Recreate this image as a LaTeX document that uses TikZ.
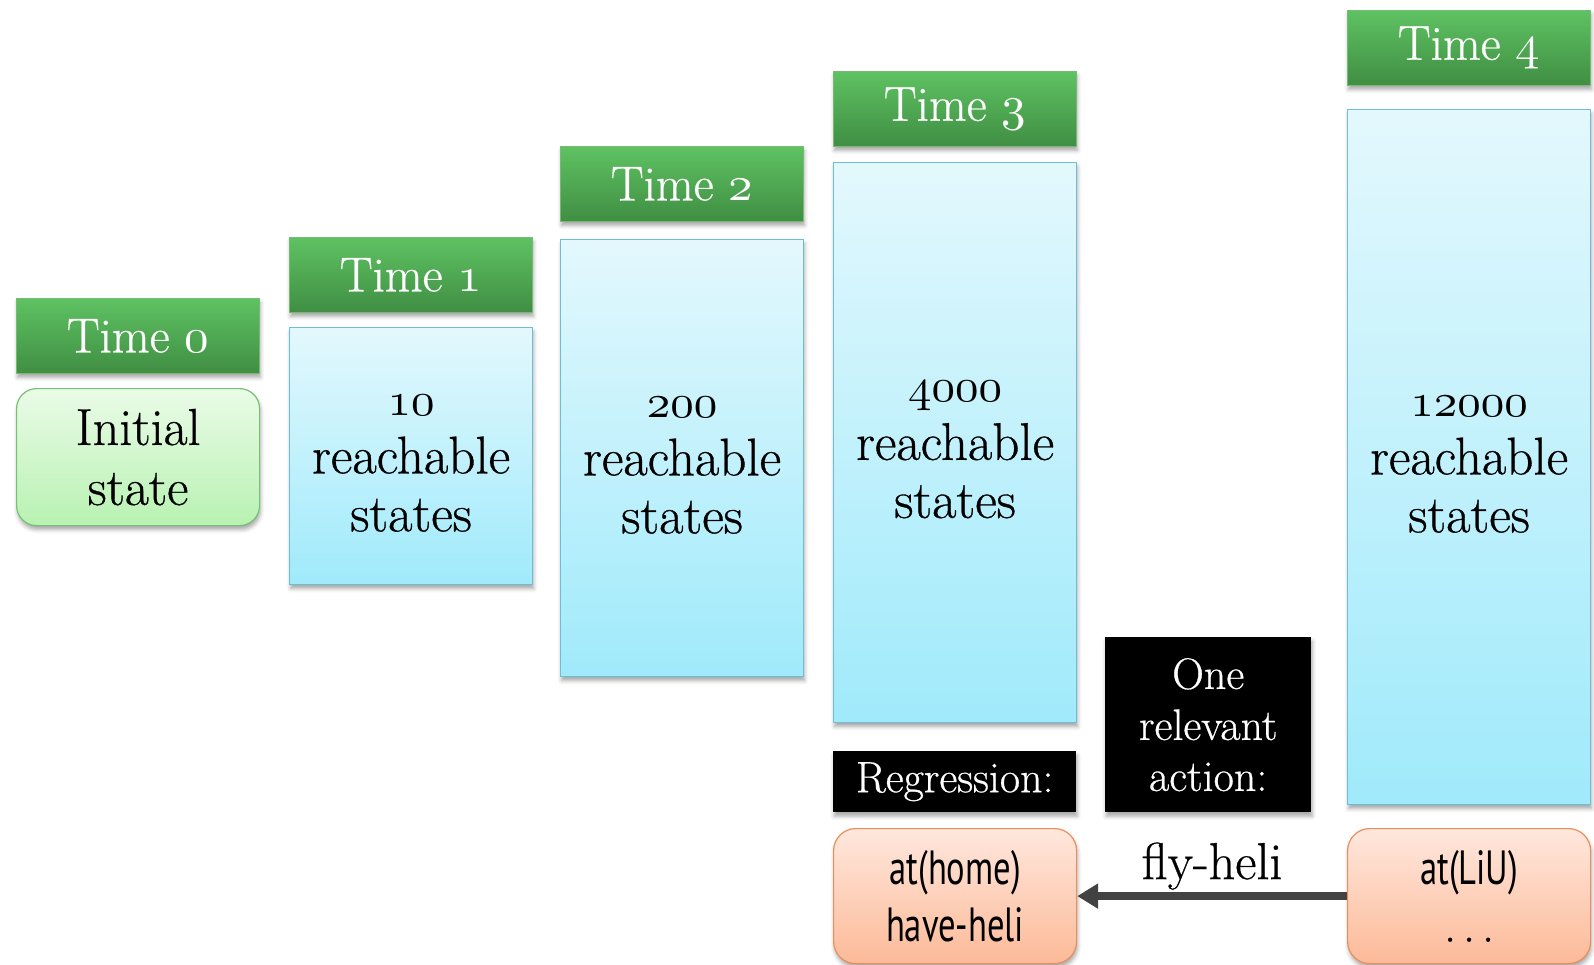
\documentclass[tikz,border=0pt]{standalone}
\usepackage{fontspec}
\usepackage{graphicx}
\usetikzlibrary{arrows.meta,shadows.blur}

\setmainfont{Latin Modern Roman}[UprightFeatures={FakeBold=0.6}]
% narrow sans for the state descriptions
\newfontfamily\condsans[FakeStretch=0.72]{PT Sans}
% old-style figures taken from the math italic font, scaled up
\newcommand\osnum[2]{\scalebox{#1}{\fontencoding{OML}\fontfamily{cmm}\fontseries{m}\fontshape{it}\fontsize{10}{12}\selectfont #2}}
% first line of a state count, with room above it
\newcommand\countline[1]{\rule{0pt}{35pt}\osnum{4.7}{#1}}

\definecolor{hdrtop}{RGB}{94,194,98}
\definecolor{hdrbot}{RGB}{64,142,67}
\definecolor{hdrline}{RGB}{118,186,118}
\definecolor{inittop}{RGB}{234,251,231}
\definecolor{initbot}{RGB}{184,242,178}
\definecolor{initline}{RGB}{120,192,116}
\definecolor{bluetop}{RGB}{227,248,253}
\definecolor{bluebot}{RGB}{160,234,251}
\definecolor{blueline}{RGB}{108,190,214}
\definecolor{orgtop}{RGB}{255,231,221}
\definecolor{orgbot}{RGB}{252,186,152}
\definecolor{orgline}{RGB}{236,142,92}
\definecolor{arrowgray}{RGB}{66,66,66}

\tikzset{
  panel/.style={anchor=north west, inner sep=0pt, align=center, minimum width=243pt},
  softshadow/.style={blur shadow={shadow xshift=1pt, shadow yshift=-4pt,
      shadow blur radius=4pt, shadow opacity=35}},
  timehdr/.style={panel, softshadow, minimum height=75pt, top color=hdrtop,
      bottom color=hdrbot, draw=hdrline, line width=0.8pt, text=white,
      font=\fontsize{49}{56}\selectfont},
  initbox/.style={panel, softshadow, rounded corners=20pt, top color=inittop,
      bottom color=initbot, draw=initline, line width=1.2pt,
      font=\fontsize{52}{60}\selectfont},
  reachbox/.style={panel, softshadow, top color=bluetop, bottom color=bluebot,
      draw=blueline, line width=1.2pt, font=\fontsize{53}{58}\selectfont},
  blackbox/.style={panel, softshadow, fill=black, text=white,
      font=\fontsize{44}{51}\selectfont},
  statebox/.style={panel, softshadow, rounded corners=22pt, minimum height=135pt,
      top color=orgtop, bottom color=orgbot, draw=orgline, line width=1.2pt,
      font=\condsans\fontsize{48}{57}\selectfont},
  actionarrow/.style={draw=arrowgray, line width=8pt,
      -{Triangle[length=21pt,width=24pt]}},
}

\begin{document}
\begin{tikzpicture}[x=1pt, y=-1pt]
  \useasboundingbox (0,0) rectangle (1594,965);

  % time step headers
  \node[timehdr] (t0) at (16,298)   {Time \osnum{4.9}{0}};
  \node[timehdr] (t1) at (289,237)  {Time \osnum{4.9}{1}};
  \node[timehdr] (t2) at (560,146)  {Time \osnum{4.9}{2}};
  \node[timehdr] (t3) at (833,71)   {Time \osnum{4.9}{3}};
  \node[timehdr] (t4) at (1347,10)  {Time \osnum{4.9}{4}};

  % state sets below each header
  \node[initbox, minimum height=137pt] (s0) at (16,388) {Initial\\state};
  \node[reachbox, minimum height=257pt] (s1) at (289,327)
      {\countline{10}\\reachable\\states};
  \node[reachbox, minimum height=437pt] (s2) at (560,239)
      {\countline{200}\\reachable\\states};
  \node[reachbox, minimum height=560pt] (s3) at (833,162)
      {\countline{4000}\\reachable\\states};
  \node[reachbox, minimum height=695pt] (s4) at (1347,109)
      {\countline{12000}\\reachable\\states};

  % regression captions
  \node[blackbox, minimum height=61pt] (reg) at (833,751) {Regression:};
  \node[blackbox, minimum width=206pt, minimum height=175pt] (act) at (1105,637)
      {One\\relevant\\action:};

  % regressed states
  \node[statebox] (home) at (833,828) {at(home)\\have-heli};
  \node[statebox] (liu) at (1347,828)
      {at(LiU)\\{\rmfamily .\kern7pt.\kern7pt.}};

  \draw[actionarrow] (liu.west) -- (home.east)
      node[midway, anchor=base, yshift=17pt, font=\fontsize{52}{56}\selectfont,
           line width=0pt, draw=none] (lbl) {fly-heli};
\end{tikzpicture}
\end{document}
